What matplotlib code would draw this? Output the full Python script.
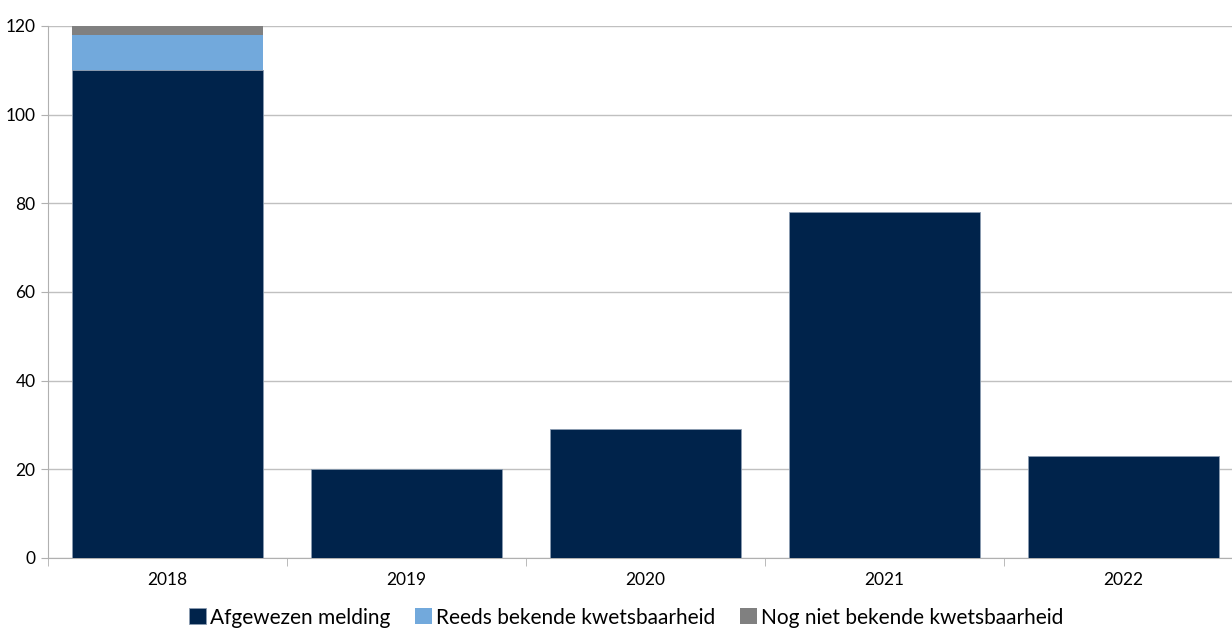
import numpy as np
import matplotlib.pyplot as plt

plt.rcParams['font.family'] = ['Lato', 'DejaVu Sans']

years = ['2018', '2019', '2020', '2021', '2022']
afgewezen = [110, 20, 29, 78, 23]
reeds_bekend = [8, 0, 0, 0, 0]
nog_niet_bekend = [2, 0, 0, 0, 0]

c_dark = '#00234b'
c_light = '#72a9dc'
c_gray = '#808080'

fig = plt.figure(figsize=(12.32, 6.33), dpi=100)
# axes runs a little past the right edge, as in the original
ax = fig.add_axes([48 / 1232, 75 / 633, 1195 / 1232, 532 / 633])

x = np.arange(len(years))
w = 0.8
bottom2 = np.array(afgewezen)
bottom3 = bottom2 + np.array(reeds_bekend)

ax.bar(x, afgewezen, w, color=c_dark, edgecolor='#8a9bb0', linewidth=0.6,
       label='Afgewezen melding', zorder=3)
ax.bar(x, reeds_bekend, w, bottom=bottom2, color=c_light, linewidth=0,
       label='Reeds bekende kwetsbaarheid', zorder=3)
ax.bar(x, nog_niet_bekend, w, bottom=bottom3, color=c_gray, linewidth=0,
       label='Nog niet bekende kwetsbaarheid', zorder=3)

ax.set_xlim(-0.5, 4.5)
ax.set_ylim(0, 120)
ax.set_yticks(np.arange(0, 121, 20))
ax.yaxis.grid(True, color='#c0c0c0', linewidth=1)
ax.set_axisbelow(True)

ax.set_xticks(x)
ax.set_xticklabels(years)
ax.set_xticks(np.arange(-0.5, 5, 1), minor=True)
ax.tick_params(axis='x', which='major', length=0, pad=10, labelsize=12.5)
ax.tick_params(axis='x', which='minor', length=6, color='#b0b0b0', direction='out')
ax.tick_params(axis='y', length=5, color='#b0b0b0', labelsize=12.5, pad=4)

for s in ['top', 'right']:
    ax.spines[s].set_visible(False)
for s in ['left', 'bottom']:
    ax.spines[s].set_color('#b0b0b0')

ax.legend(loc='upper center', bbox_to_anchor=(0.484, -0.058), ncol=3, frameon=False,
          fontsize=15, handlelength=0.8, handleheight=0.8, handletextpad=0.2,
          columnspacing=1.2)

fig.savefig('out.png', dpi=100)
